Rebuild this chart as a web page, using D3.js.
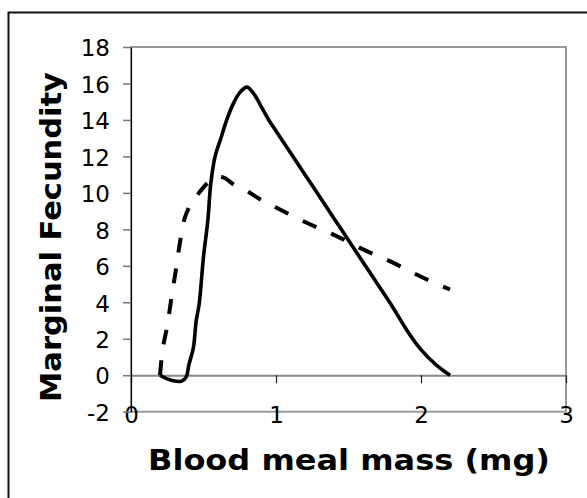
<!DOCTYPE html>
<html>
<head>
<meta charset="utf-8">
<script src="https://cdn.jsdelivr.net/npm/d3@7"></script>
<style>
  body { margin: 0; background: #fff; }
  svg { display: block; }
  text { font-family: Verdana, "DejaVu Sans", sans-serif; fill: #000; }
</style>
</head>
<body>
<div id="chart"></div>
<script>
// blood meal mass (mg) and marginal fecundity
const solidX = [0.20, 0.25, 0.30, 0.35, 0.38, 0.40, 0.43, 0.45, 0.47, 0.50, 0.53, 0.55, 0.58, 0.62, 0.66, 0.70, 0.75, 0.80, 0.85, 0.90, 0.95, 1.00, 1.10, 1.20, 1.30, 1.40, 1.50, 1.60, 1.70, 1.80, 1.90, 2.00, 2.10, 2.20];
const solidY = [0.0, -0.2, -0.32, -0.32, -0.1, 0.6, 1.5, 3.0, 3.9, 6.5, 8.5, 10.5, 12.0, 13.0, 14.0, 14.8, 15.5, 15.8, 15.4, 14.7, 14.0, 13.4, 12.2, 11.0, 9.8, 8.6, 7.4, 6.2, 5.0, 3.8, 2.5, 1.4, 0.6, 0.0];

const dashX = [0.20, 0.22, 0.25, 0.28, 0.31, 0.34, 0.37, 0.40, 0.45, 0.50, 0.55, 0.60, 0.65, 0.70, 0.80, 0.90, 1.00, 1.20, 1.40, 1.60, 1.80, 2.00, 2.20];
const dashY = [0.0, 1.5, 2.7, 4.3, 5.8, 7.4, 8.6, 9.2, 9.8, 10.3, 10.7, 10.9, 10.8, 10.5, 10.1, 9.6, 9.2, 8.4, 7.7, 6.9, 6.2, 5.4, 4.7];

const xTicks = [0, 1, 2, 3];
const yTicks = [-2, 0, 2, 4, 6, 8, 10, 12, 14, 16, 18];

const width = 587, height = 498;

const svg = d3.select("#chart").append("svg")
    .attr("width", width)
    .attr("height", height);

// outer chart border (runs off the right / bottom edge)
svg.append("rect")
    .attr("x", 8.5).attr("y", 12.5)
    .attr("width", 620).attr("height", 520)
    .attr("fill", "#fff")
    .attr("stroke", "#111")
    .attr("stroke-width", 2);

const x = d3.scaleLinear().domain([0, 3]).range([131, 566]);
const y = d3.scaleLinear().domain([-2, 18]).range([411.7, 47]);

// plot area border
svg.append("rect")
    .attr("x", x(0)).attr("y", y(18))
    .attr("width", x(3) - x(0)).attr("height", y(-2) - y(18))
    .attr("fill", "none")
    .attr("stroke", "#999")
    .attr("stroke-width", 2);

// y axis
const yAxis = svg.append("g")
    .attr("transform", "translate(" + x(0) + ",0)")
    .call(d3.axisLeft(y).tickValues(yTicks).tickFormat(d => String(d))
        .tickSize(8).tickSizeOuter(0).tickPadding(13));
yAxis.select(".domain").attr("stroke", "#000").attr("stroke-width", 1.2);
yAxis.selectAll(".tick line").attr("stroke", "#777").attr("stroke-width", 1.5);
yAxis.selectAll(".tick text")
    .attr("font-size", 23)
    .attr("font-family", "Verdana, 'DejaVu Sans', sans-serif")
    .attr("fill", "#000")
    .attr("dy", "0.38em");

// x axis sits on y = 0, labels drop below the plot
const xAxis = svg.append("g")
    .attr("transform", "translate(0," + y(0) + ")")
    .call(d3.axisBottom(x).tickValues(xTicks).tickFormat(d => String(d))
        .tickSize(8).tickSizeOuter(0).tickPadding(23));
xAxis.select(".domain").attr("stroke", "#888").attr("stroke-width", 2);
xAxis.selectAll(".tick line").attr("stroke", "#222").attr("stroke-width", 1.2);
xAxis.selectAll(".tick text")
    .attr("font-size", 23)
    .attr("font-family", "Verdana, 'DejaVu Sans', sans-serif")
    .attr("fill", "#000");
// keep the y axis line on top of the x axis
yAxis.raise();

const line = d3.line()
    .x(d => x(d[0]))
    .y(d => y(d[1]))
    .curve(d3.curveCatmullRom.alpha(0.5));

svg.append("path")
    .datum(dashX.map((v, i) => [v, dashY[i]]))
    .attr("d", line)
    .attr("fill", "none")
    .attr("stroke", "#000")
    .attr("stroke-width", 4)
    .attr("stroke-dasharray", "15,16");

svg.append("path")
    .datum(solidX.map((v, i) => [v, solidY[i]]))
    .attr("d", line)
    .attr("fill", "none")
    .attr("stroke", "#000")
    .attr("stroke-width", 3.6)
    .attr("stroke-linejoin", "round");

// axis titles, glyphs widened to the width of the original Verdana Bold
svg.append("text")
    .attr("x", 148).attr("y", 470)
    .attr("font-size", 28)
    .attr("font-weight", "bold")
    .attr("textLength", 402)
    .attr("lengthAdjust", "spacingAndGlyphs")
    .text("Blood meal mass (mg)");

svg.append("text")
    .attr("transform", "translate(61,402) rotate(-90)")
    .attr("font-size", 28)
    .attr("font-weight", "bold")
    .attr("textLength", 330)
    .attr("lengthAdjust", "spacingAndGlyphs")
    .text("Marginal Fecundity");
</script>
</body>
</html>
